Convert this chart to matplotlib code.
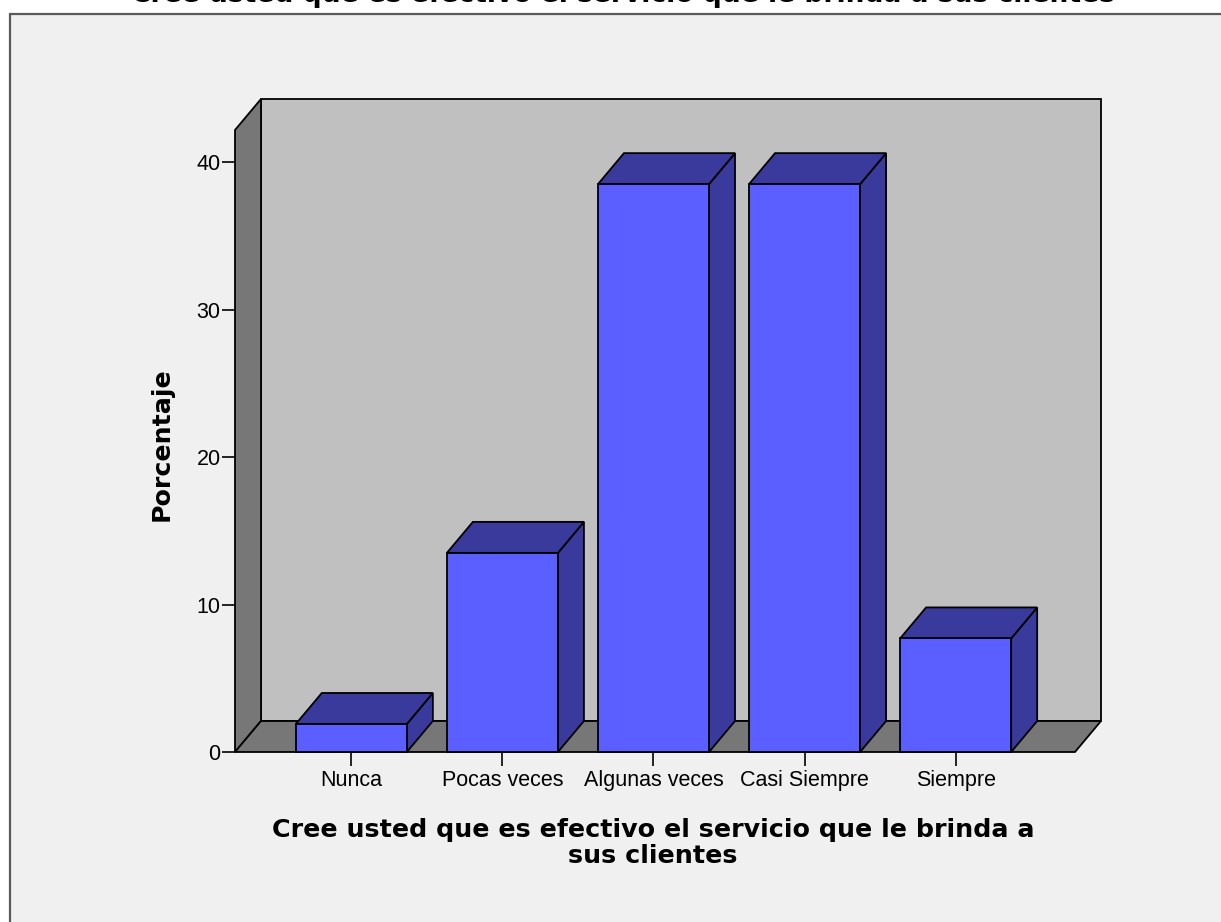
import matplotlib
matplotlib.use("Agg")
import matplotlib.pyplot as plt
from matplotlib.patches import Rectangle, Polygon

# Survey results (percent of respondents)
categories = ["Nunca", "Pocas veces", "Algunas veces", "Casi Siempre", "Siempre"]
percentages = [1.9, 13.5, 38.5, 38.5, 7.7]
y_ticks = [0, 10, 20, 30, 40]

title_text = "Cree usted que es efectivo el servicio que le brinda a sus clientes"
x_title = "Cree usted que es efectivo el servicio que le brinda a\nsus clientes"
y_title = "Porcentaje"

W, H = 1221, 922
fig = plt.figure(figsize=(W / 100, H / 100), dpi=100)
fig.patch.set_facecolor("white")
TICK_FONT = "Liberation Sans"
TITLE_FONT = "DejaVu Sans"

# Outer chart frame
frame = Rectangle((10 / W, -0.01), 1.02, (H - 14) / H + 0.01, transform=fig.transFigure,
                  facecolor="#f0f0f0", edgecolor="#5a5a5a", linewidth=1.6, zorder=-5)
fig.patches.append(frame)

# Title, running off the top edge
fig.text(623 / W, 1 - 1.5 / H, title_text, ha="center", va="baseline",
         fontsize=19.1, fontweight="bold", family=TITLE_FONT)

# Front plane of the 3-D box
ax = fig.add_axes([235 / W, (H - 752) / H, 840 / W, 622 / H])
ax.set_facecolor("none")
for s in ax.spines.values():
    s.set_visible(False)

x0, x1 = -0.77, 4.79
y0, y1 = 0, 42.17
ax.set_xlim(x0, x1)
ax.set_ylim(y0, y1)

# depth offset (data units) for the oblique projection
px_x = (x1 - x0) / 840
px_y = (y1 - y0) / 622
dx = 26 * px_x
dy = 31 * px_y

wall_gray = "#777777"
back_gray = "#c0c0c0"
front_blue = "#5b5fff"
shade_blue = "#3a3a9c"
lw = 1.3

# back wall
ax.add_patch(Rectangle((x0 + dx, y0 + dy), x1 - x0, y1 - y0, facecolor=back_gray,
                       edgecolor="black", linewidth=lw, clip_on=False, zorder=1))
# left wall
ax.add_patch(Polygon([(x0, y0), (x0, y1), (x0 + dx, y1 + dy), (x0 + dx, y0 + dy)],
                     closed=True, facecolor=wall_gray, edgecolor="black",
                     linewidth=lw, clip_on=False, zorder=2))
# floor
ax.add_patch(Polygon([(x0, y0), (x1, y0), (x1 + dx, y0 + dy), (x0 + dx, y0 + dy)],
                     closed=True, facecolor=wall_gray, edgecolor="black",
                     linewidth=lw, clip_on=False, zorder=2))

# bars
bw = 0.735
xs = list(range(len(categories)))
bars = ax.bar(xs, percentages, width=bw, color=front_blue, edgecolor="black",
              linewidth=lw, zorder=4, clip_on=False)
for rect, v in zip(bars, percentages):
    l = rect.get_x()
    r = l + rect.get_width()
    top = [(l, v), (r, v), (r + dx, v + dy), (l + dx, v + dy)]
    side = [(r, 0), (r + dx, dy), (r + dx, v + dy), (r, v)]
    ax.add_patch(Polygon(side, closed=True, facecolor=shade_blue, edgecolor="black",
                         linewidth=lw, zorder=3, clip_on=False))
    ax.add_patch(Polygon(top, closed=True, facecolor=shade_blue, edgecolor="black",
                         linewidth=lw, zorder=3, clip_on=False))

ax.set_yticks(y_ticks)
ax.set_yticklabels([str(t) for t in y_ticks])
ax.set_xticks(xs)
ax.set_xticklabels(categories)
ax.tick_params(axis="y", length=9.4, width=1.2, pad=1, labelsize=15.5, colors="black")
ax.tick_params(axis="x", length=10, width=1.2, pad=3, labelsize=15.5, colors="black")
for lab in ax.get_xticklabels() + ax.get_yticklabels():
    lab.set_family(TICK_FONT)

# axis titles
fig.text(653 / W, 1 - 843 / H, x_title, ha="center", va="center", fontsize=18.3,
         fontweight="bold", family=TITLE_FONT, linespacing=1.1, multialignment="center")
fig.text(162 / W, 1 - 444 / H, y_title, ha="center", va="center", rotation=90,
         fontsize=18.2, fontweight="bold", family=TITLE_FONT)

fig.savefig("out.png", dpi=100, facecolor=fig.get_facecolor())
